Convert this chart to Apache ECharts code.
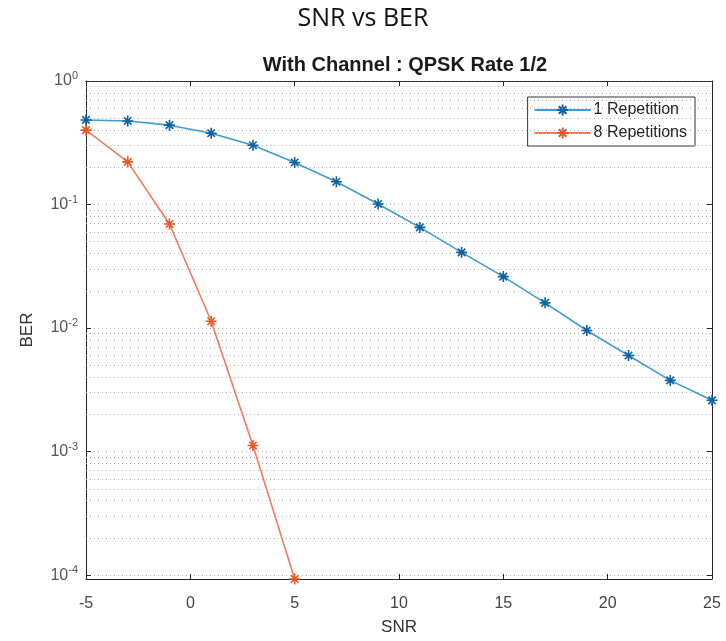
<!DOCTYPE html>
<html>
<head>
<meta charset="utf-8">
<script src="https://cdn.jsdelivr.net/npm/echarts@6/dist/echarts.min.js"></script>
<style>
	html, body { margin: 0; padding: 0; background: #fff; }
	#berChart { width: 726px; height: 641px; }
</style>
</head>
<body>
<div id="berChart"></div>
<script>
// 数据
var snrOne = [-5, -3, -1, 1, 3, 5, 7, 9, 11, 13, 15, 17, 19, 21, 23, 25];
var berOne = [0.484, 0.475, 0.439, 0.378, 0.302, 0.219, 0.153, 0.101, 0.0653, 0.041, 0.0261, 0.016, 0.00955, 0.006, 0.00377, 0.0026];
var snrEight = [-5, -3, -1, 1, 3, 5];
var berEight = [0.40, 0.2216, 0.0695, 0.01135, 0.00112, 0.000093];
var yMin = 0.000093;
var yMax = 1;
// 次网格线（每个十倍程内 2..9）
var minorMantissa = [2, 3, 4, 5, 6, 7, 8, 9];
var minorDecades = [0.0001, 0.001, 0.01, 0.1];

var asterisk = 'path://M0 5 L10 5 M5 0 L5 10 M1.6 1.6 L8.4 8.4 M8.4 1.6 L1.6 8.4';

function toPairs(xs, ys) {
	var out = [];
	for (var i = 0; i < xs.length; i++) {
		out.push([xs[i], ys[i]]);
	}
	return out;
}

var minorLines = [];
minorDecades.forEach(function (d) {
	minorMantissa.forEach(function (m) {
		minorLines.push({ yAxis: m * d });
	});
});

function powLabel(value) {
	var e = Math.round(Math.log(value) / Math.LN10);
	return '{b|10}{s|' + e + '}';
}

var chart = echarts.init(document.getElementById('berChart'));
var option = {
	animation: false,
	backgroundColor: '#fff',
	title: [
		{
			text: 'SNR vs BER',
			left: 'center',
			top: 1,
			textStyle: { fontFamily: 'Open Sans', fontSize: 25, fontWeight: 'normal', color: '#111' }
		},
		{
			text: 'With Channel : QPSK Rate 1/2',
			left: 400,
			textAlign: 'center',
			top: 50,
			textStyle: { fontFamily: 'Liberation Sans', fontSize: 20, fontWeight: 'bold', color: '#1a1a1a' }
		}
	],
	legend: {
		orient: 'vertical',
		right: 31,
		top: 97,
		padding: [5, 8, 5, 6],
		itemGap: 7,
		itemWidth: 56,
		itemHeight: 14,
		borderColor: '#333',
		borderWidth: 1,
		backgroundColor: '#fff',
		selectedMode: false,
		textStyle: { fontFamily: 'Liberation Sans', fontSize: 16, color: '#222', padding: [0, 0, 0, -2] },
		data: ['1 Repetition', '8 Repetitions']
	},
	grid: {
		left: 86,
		right: 14,
		top: 81,
		bottom: 62
	},
	xAxis: [
		{
			type: 'value',
			min: -5,
			max: 25,
			interval: 5,
			name: 'SNR',
			nameLocation: 'middle',
			nameGap: 40,
			nameTextStyle: { fontFamily: 'Liberation Sans', fontSize: 17, color: '#333' },
			axisLine: { onZero: false, lineStyle: { color: '#262626', width: 1 } },
			axisTick: { inside: true, length: 5, lineStyle: { color: '#262626' } },
			axisLabel: { fontFamily: 'Liberation Sans', fontSize: 16, color: '#444', margin: 17 },
			splitLine: { show: false }
		},
		{
			type: 'value',
			position: 'top',
			min: -5,
			max: 25,
			interval: 5,
			axisLine: { show: true, onZero: false, lineStyle: { color: '#262626', width: 1 } },
			axisTick: { inside: true, length: 5, lineStyle: { color: '#262626' } },
			axisLabel: { show: false },
			splitLine: { show: false }
		}
	],
	yAxis: [
		{
			type: 'log',
			logBase: 10,
			min: yMin,
			max: yMax,
			name: 'BER',
			nameLocation: 'middle',
			nameGap: 50,
			nameTextStyle: { fontFamily: 'Liberation Sans', fontSize: 17, color: '#333' },
			axisLine: { show: true, onZero: false, lineStyle: { color: '#262626', width: 1 } },
			axisTick: { inside: true, length: 5, lineStyle: { color: '#262626' } },
			axisLabel: {
				showMinLabel: false,
				margin: 8,
				formatter: powLabel,
				rich: {
					b: { fontFamily: 'Liberation Sans', fontSize: 16, color: '#555' },
					s: { fontFamily: 'Liberation Sans', fontSize: 11, color: '#555', padding: [0, 0, 10, 0] }
				}
			},
			splitLine: { show: true, lineStyle: { color: '#aaa', type: [1, 3], width: 1 } }
		},
		{
			type: 'log',
			logBase: 10,
			min: yMin,
			max: yMax,
			position: 'right',
			axisLine: { show: true, onZero: false, lineStyle: { color: '#262626', width: 1 } },
			axisTick: { inside: true, length: 5, lineStyle: { color: '#262626' } },
			axisLabel: { show: false },
			splitLine: { show: false }
		}
	],
	series: [
		{
			name: '1 Repetition',
			type: 'line',
			data: toPairs(snrOne, berOne),
			symbol: asterisk,
			symbolSize: 11,
			lineStyle: { color: '#3d9bd3', width: 1.6 },
			itemStyle: { color: '#0f62a0', borderColor: '#0f62a0', borderWidth: 1.6 },
			markLine: {
				silent: true,
				precision: 10,
				symbol: ['none', 'none'],
				label: { show: false },
				emphasis: { disabled: true },
				lineStyle: { color: '#aaa', type: [1, 3], width: 1 },
				data: minorLines
			},
			z: 5
		},
		{
			name: '8 Repetitions',
			type: 'line',
			data: toPairs(snrEight, berEight),
			symbol: asterisk,
			symbolSize: 11,
			lineStyle: { color: '#f07a5c', width: 1.6 },
			itemStyle: { color: '#ef5626', borderColor: '#ef5626', borderWidth: 1.6 },
			z: 5
		}
	]
};
chart.setOption(option);
</script>
</body>
</html>
